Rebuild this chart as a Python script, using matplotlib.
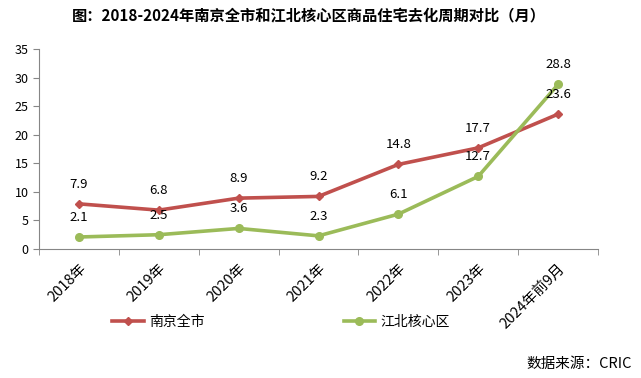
import matplotlib

matplotlib.use('agg')
import matplotlib.pyplot as plt
import numpy as np

plt.rcParams['font.family'] = ['Noto Sans CJK SC', 'DejaVu Sans']

years = ["2018年", "2019年", "2020年", "2021年", "2022年", "2023年", "2024年前9月"]
nanjing = [7.9, 6.8, 8.9, 9.2, 14.8, 17.7, 23.6]
jiangbei = [2.1, 2.5, 3.6, 2.3, 6.1, 12.7, 28.8]

red = '#C0504D'
green = '#9BBB59'
axis_gray = '#868686'

fig = plt.figure(figsize=(6.41, 3.78), dpi=100)
# axes box in pixels: x 39..598, y 49..249
ax = fig.add_axes([39 / 641, 1 - 249 / 378, (598 - 39) / 641, 200 / 378])

x = np.arange(len(years))
ax.plot(x, nanjing, color=red, lw=2.6, marker='D', ms=4.5, label='南京全市')
ax.plot(x, jiangbei, color=green, lw=2.6, marker='o', ms=5.5, label='江北核心区')

for xi, v in zip(x, nanjing):
    ax.annotate(f"{v:.1f}", (xi, v), xytext=(0, 14), textcoords='offset points',
                ha='center', va='center', fontsize=9.5)
for xi, v in zip(x, jiangbei):
    ax.annotate(f"{v:.1f}", (xi, v), xytext=(0, 14), textcoords='offset points',
                ha='center', va='center', fontsize=9.5)

ax.set_xlim(-0.5, len(years) - 0.5)
ax.set_ylim(0, 35)
ax.set_yticks(range(0, 36, 5))
ax.set_xticks(x)
ax.set_xticklabels(years, rotation=45, ha='right', rotation_mode='anchor', fontsize=10.5)
ax.set_xticks(np.arange(-0.5, len(years), 1), minor=True)
ax.tick_params(axis='x', which='major', length=0, pad=9)
ax.tick_params(axis='x', which='minor', length=4, color=axis_gray)
ax.tick_params(axis='y', length=4, color=axis_gray, labelsize=9, pad=3.5)

for s in ['top', 'right']:
    ax.spines[s].set_visible(False)
for s in ['left', 'bottom']:
    ax.spines[s].set_color(axis_gray)

fig.text(309 / 641, 1 - 16 / 378, "图：2018-2024年南京全市和江北核心区商品住宅去化周期对比（月）",
         ha='center', va='center', fontsize=11, fontweight='bold')

fig.legend(loc='center', bbox_to_anchor=(281 / 641, 1 - 322 / 378), ncol=2,
           frameon=False, fontsize=10, handlelength=2.3, columnspacing=10,
           handletextpad=0.35, borderpad=0)

fig.text(632 / 641, 1 - 364 / 378, "数据来源：CRIC", ha='right', va='center', fontsize=10.5)

plt.savefig('out.png', dpi=100)
